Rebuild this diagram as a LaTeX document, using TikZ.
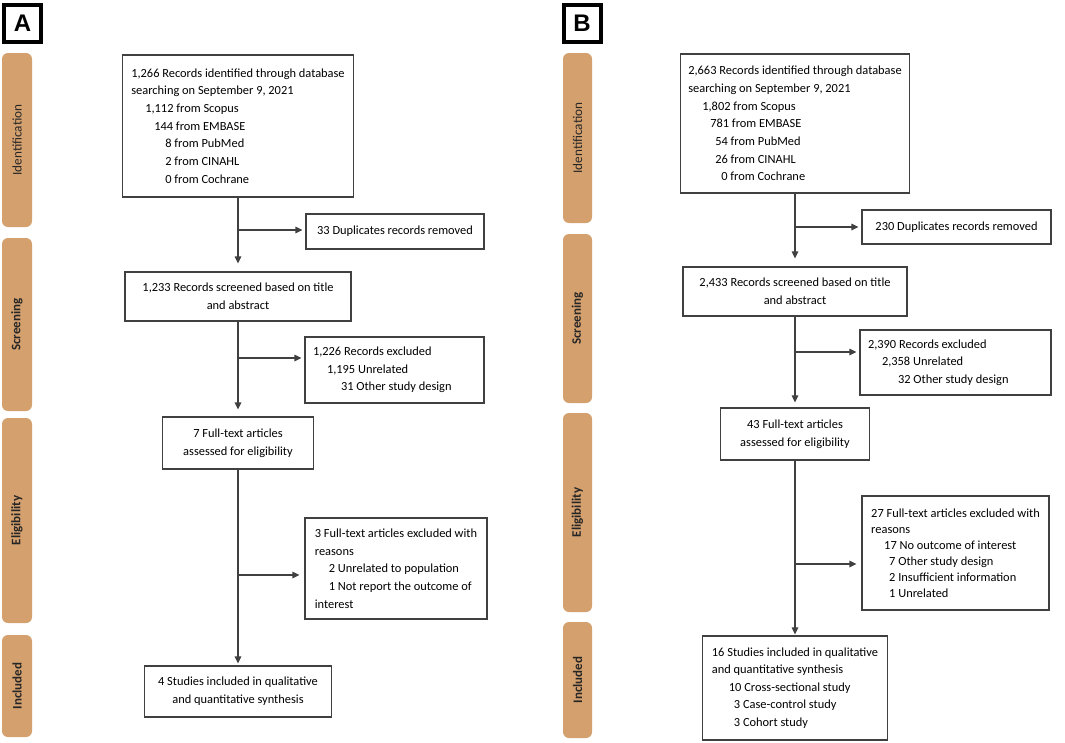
\documentclass[tikz,border=0pt]{standalone}
\usepackage{fontspec}
\setmainfont{Carlito}
\newfontfamily\panelfont{Liberation Sans}
\usetikzlibrary{positioning,arrows.meta}

\definecolor{stagetan}{RGB}{212,160,110}
\definecolor{boxline}{RGB}{64,64,64}

\tikzset{
  box/.style={draw=boxline, line width=1.2pt, inner xsep=8pt, inner ysep=0pt,
    font=\fontsize{12.4}{17.7}\selectfont},
  lbox/.style={box, align=flush left},
  cbox/.style={box, align=center},
  stage/.style={fill=stagetan, rounded corners=6pt, inner sep=0pt},
  stagelabel/.style={rotate=90, text=black!85, font=\fontsize{13}{15}\selectfont\bfseries},
  flow/.style={draw=boxline, line width=1.2pt, -{Triangle[length=7pt,width=6.5pt]}},
  panel/.style={draw, line width=4pt, minimum size=37pt, inner sep=0pt,
    font=\panelfont\bfseries\fontsize{24}{24}\selectfont}
}

\begin{document}
\begin{tikzpicture}[x=1pt,y=-1pt]
\useasboundingbox (0,0) rectangle (1065,742);

% panel A
\node[panel] (labA) at (22.5,23) {A};
\node[stage, minimum width=30pt, minimum height=174pt] (stA1) at (17,140) {};
\node[stage, minimum width=30pt, minimum height=173pt] (stA2) at (17,324.5) {};
\node[stage, minimum width=30pt, minimum height=205pt] (stA3) at (17,520.5) {};
\node[stage, minimum width=30pt, minimum height=102pt] (stA4) at (17,686) {};
\node[stagelabel, font=\fontsize{13.2}{15}\selectfont] at (stA1) {Identification};
\node[stagelabel] at (stA2) {Screening};
\node[stagelabel] at (stA3) {Eligibility};
\node[stagelabel] at (stA4) {Included};

\node[lbox, minimum width=231pt, minimum height=142pt] (a1) at (238,126)
  {1,266 Records identified through database\\
   searching on September 9, 2021\\
   \hspace*{14pt}1,112 from Scopus\\
   \hspace*{23pt}144 from EMBASE\\
   \hspace*{34pt}8 from PubMed\\
   \hspace*{34pt}2 from CINAHL\\
   \hspace*{34pt}0 from Cochrane};
\node[cbox, minimum width=178pt, minimum height=35pt] (d1) at (395,231.5)
  {33 Duplicates records removed};
\node[cbox, minimum width=226pt, minimum height=49pt] (a2) at (238,296.5)
  {1,233 Records screened based on title\\ and abstract};
\node[lbox, text width=163pt, minimum height=66pt] (d2) at (394.5,370)
  {1,226 Records excluded\\
   \hspace*{14pt}1,195 Unrelated\\
   \hspace*{28pt}31 Other study design};
\node[cbox, minimum width=151pt, minimum height=52pt] (a3) at (238,443)
  {7 Full-text articles\\ assessed for eligibility};
\node[lbox, minimum width=182pt, minimum height=101pt] (d3) at (396,568.5)
  {3 Full-text articles excluded with\\
   reasons\\
   \hspace*{14pt}2 Unrelated to population\\
   \hspace*{14pt}1 Not report the outcome of\\
   interest};
\node[cbox, minimum width=187pt, minimum height=51pt] (a4) at (238,691.5)
  {4 Studies included in qualitative\\ and quantitative synthesis};

\coordinate (jA1) at (238,230);
\coordinate (jA2) at (238,358);
\coordinate (jA3) at (238,575);
\draw[flow, shorten >=8pt] (a1.south) -- (a2.north);
\draw[flow, shorten >=7pt] (a2.south) -- (a3.north);
\draw[flow, shorten >=2pt] (a3.south) -- (a4.north);
\draw[flow, shorten >=3pt] (jA1) -- (jA1 -| d1.west);
\draw[flow, shorten >=3pt] (jA2) -- (jA2 -| d2.west);
\draw[flow, shorten >=5pt] (jA3) -- (jA3 -| d3.west);

% panel B
\node[panel] (labB) at (582,23) {B};
\node[stage, minimum width=29pt, minimum height=170pt] (stB1) at (577.5,138) {};
\node[stage, minimum width=29pt, minimum height=169pt] (stB2) at (577.5,318.5) {};
\node[stage, minimum width=29pt, minimum height=199pt] (stB3) at (577.5,512.5) {};
\node[stage, minimum width=29pt, minimum height=116pt] (stB4) at (577.5,680) {};
\node[stagelabel, font=\fontsize{13.2}{15}\selectfont] at (stB1) {Identification};
\node[stagelabel] at (stB2) {Screening};
\node[stagelabel] at (stB3) {Eligibility};
\node[stagelabel] at (stB4) {Included};

\node[lbox, minimum width=229pt, minimum height=139pt] (b1) at (795,123.5)
  {2,663 Records identified through database\\
   searching on September 9, 2021\\
   \hspace*{14pt}1,802 from Scopus\\
   \hspace*{22pt}781 from EMBASE\\
   \hspace*{27pt}54 from PubMed\\
   \hspace*{27pt}26 from CINAHL\\
   \hspace*{33pt}0 from Cochrane};
\node[cbox, minimum width=189pt, minimum height=34pt] (e1) at (956.5,227)
  {230 Duplicates records removed};
\node[cbox, minimum width=224pt, minimum height=49pt] (b2) at (795,291.5)
  {2,433 Records screened based on title\\ and abstract};
\node[lbox, text width=175pt, minimum height=65pt] (e2) at (955.5,362.5)
  {2,390 Records excluded\\
   \hspace*{14pt}2,358 Unrelated\\
   \hspace*{30pt}32 Other study design};
\node[cbox, minimum width=149pt, minimum height=52pt] (b3) at (795,434)
  {43 Full-text articles\\ assessed for eligibility};
\node[lbox, minimum width=187pt, minimum height=114pt,
  font=\fontsize{12.4}{16}\selectfont] (e3) at (955.5,553)
  {27 Full-text articles excluded with\\
   reasons\\
   \hspace*{13pt}17 No outcome of interest\\
   \hspace*{18pt}7 Other study design\\
   \hspace*{18pt}2 Insufficient information\\
   \hspace*{18pt}1 Unrelated};
\node[lbox, minimum width=185pt, minimum height=104pt,
  font=\fontsize{12.4}{17.5}\selectfont] (b5) at (795,688)
  {16 Studies included in qualitative\\
   and quantitative synthesis\\
   \hspace*{17pt}10 Cross-sectional study\\
   \hspace*{22pt}3 Case-control study\\
   \hspace*{22pt}3 Cohort study};

\coordinate (jB1) at (795,227);
\coordinate (jB2) at (795,352);
\coordinate (jB3) at (795,564);
\draw[flow, shorten >=8pt] (b1.south) -- (b2.north);
\draw[flow, shorten >=5pt] (b2.south) -- (b3.north);
\draw[flow, shorten >=1pt] (b3.south) -- (b5.north);
\draw[flow, shorten >=3pt] (jB1) -- (jB1 -| e1.west);
\draw[flow, shorten >=3pt] (jB2) -- (jB2 -| e2.west);
\draw[flow, shorten >=5pt] (jB3) -- (jB3 -| e3.west);
\end{tikzpicture}
\end{document}
